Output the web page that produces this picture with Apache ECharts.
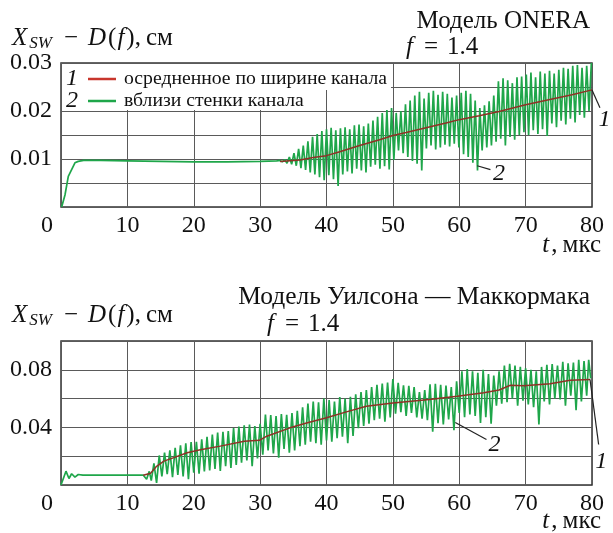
<!DOCTYPE html>
<html>
<head>
<meta charset="utf-8">
<script src="https://cdn.jsdelivr.net/npm/echarts@6/dist/echarts.min.js"></script>
<style>
  html, body { margin: 0; padding: 0; background: #fff; }
  #chart { width: 613px; height: 533px; }
</style>
</head>
<body>
<div id="chart"></div>
<script>
/* ось t, мкс */
var tTicks = [0, 10, 20, 30, 40, 50, 60, 70, 80];

/* верхний график: модель ONERA */
var topGreenStart = [[0.1, 0], [0.6, 0.0025], [1.1, 0.0064], [1.4, 0.0068], [2.1, 0.0092], [2.6, 0.0095],
    [3.4, 0.0097], [6, 0.0097], [10, 0.0096], [15, 0.0095], [20, 0.0094], [25, 0.0094], [30, 0.0095], [32.5, 0.0096]];
var topGreenOsc = [
    [33.0, 0.0097], [33.35, 0.0094], [33.7, 0.0099], [34.05, 0.0091], [34.4, 0.0104], [34.75, 0.0089],
    [35.1, 0.0112], [35.45, 0.0086], [35.8, 0.0121], [36.15, 0.0081], [36.5, 0.0128], [36.85, 0.0077],
    [37.2, 0.0137], [37.55, 0.0072], [37.9, 0.0146], [38.25, 0.0068], [38.6, 0.0152], [38.95, 0.0062],
    [39.3, 0.0158], [39.65, 0.0056], [40.0, 0.0162], [40.35, 0.0066], [40.7, 0.0165], [41.05, 0.0058],
    [41.4, 0.0160], [41.75, 0.0044], [42.1, 0.0164], [42.45, 0.0068], [42.8, 0.0166], [43.15, 0.0074],
    [43.5, 0.0162], [43.85, 0.0070], [44.2, 0.0170], [44.55, 0.0080], [44.9, 0.0172], [45.25, 0.0076],
    [45.6, 0.0168], [45.95, 0.0072], [46.3, 0.0174], [46.65, 0.0084], [47.0, 0.0180], [47.35, 0.0088],
    [47.7, 0.0188], [48.05, 0.0080], [48.4, 0.0196], [48.75, 0.0085], [49.1, 0.0202], [49.45, 0.0078],
    [49.8, 0.0206], [50.15, 0.0098], [50.5, 0.0196], [50.85, 0.0118], [51.2, 0.0200], [51.55, 0.0112],
    [51.9, 0.0214], [52.25, 0.0104], [52.6, 0.0222], [52.95, 0.0096], [53.3, 0.0232], [53.65, 0.0090],
    [54.0, 0.0240], [54.35, 0.0076], [54.7, 0.0226], [55.05, 0.0122], [55.4, 0.0238], [55.75, 0.0128],
    [56.1, 0.0242], [56.45, 0.0120], [56.8, 0.0234], [57.15, 0.0124], [57.5, 0.0240], [57.85, 0.0130],
    [58.2, 0.0236], [58.55, 0.0126], [58.9, 0.0228], [59.25, 0.0132], [59.6, 0.0232], [59.95, 0.0124],
    [60.3, 0.0238], [60.65, 0.0110], [61.0, 0.0242], [61.35, 0.0104], [61.7, 0.0236], [62.05, 0.0092],
    [62.4, 0.0222], [62.75, 0.0076], [63.1, 0.0206], [63.45, 0.0118], [63.8, 0.0212], [64.15, 0.0124],
    [64.5, 0.0220], [64.85, 0.0128], [65.2, 0.0232], [65.55, 0.0136], [65.9, 0.0262], [66.25, 0.0142],
    [66.6, 0.0268], [66.95, 0.0128], [67.3, 0.0264], [67.65, 0.0146], [68.0, 0.0258], [68.35, 0.0140],
    [68.7, 0.0270], [69.05, 0.0150], [69.4, 0.0272], [69.75, 0.0156], [70.1, 0.0276], [70.45, 0.0150],
    [70.8, 0.0280], [71.15, 0.0160], [71.5, 0.0270], [71.85, 0.0152], [72.2, 0.0282], [72.55, 0.0162],
    [72.9, 0.0278], [73.25, 0.0148], [73.6, 0.0284], [73.95, 0.0174], [74.3, 0.0278], [74.65, 0.0166],
    [75.0, 0.0286], [75.35, 0.0180], [75.7, 0.0290], [76.05, 0.0172], [76.4, 0.0288], [76.75, 0.0184],
    [77.1, 0.0294], [77.45, 0.0176], [77.8, 0.0296], [78.15, 0.0192], [78.5, 0.0290], [78.85, 0.0186],
    [79.2, 0.0294], [79.55, 0.0200], [79.9, 0.0300]
];
var topRed = [[33, 0.0095], [36, 0.0098], [38, 0.0103], [40, 0.0107], [42, 0.0115], [45, 0.0128], [48, 0.0140],
    [50, 0.0149], [52, 0.0155], [55, 0.0165], [58, 0.0175], [60, 0.0182], [63, 0.0190], [66, 0.0199],
    [70, 0.0213], [74, 0.0225], [77, 0.0234], [80, 0.0244]];

/* нижний график: модель Уилсона — Маккормака */
var botGreenStart = [[0, 0], [0.75, 0.0096], [1.2, 0.0045], [1.6, 0.0078], [2.1, 0.0055], [2.6, 0.0073],
    [2.9, 0.0062], [3.3, 0.0068], [8, 0.0068], [12.4, 0.0068], [12.7, 0.0072], [12.9, 0.0040],
    [13.3, 0.0095], [13.6, 0.0030]];
var botGreenOsc = [
    [14.0, 0.0150], [14.4, 0.0015], [14.8, 0.0205], [15.2, 0.0060], [15.6, 0.0225], [16.0, 0.0075],
    [16.4, 0.0240], [16.8, 0.0055], [17.2, 0.0258], [17.6, 0.0070], [18.0, 0.0275], [18.4, 0.0060],
    [18.8, 0.0290], [19.2, 0.0040], [19.6, 0.0298], [20.0, 0.0085], [20.4, 0.0300], [20.8, 0.0078],
    [21.2, 0.0318], [21.6, 0.0095], [22.0, 0.0335], [22.4, 0.0102], [22.8, 0.0350], [23.2, 0.0112],
    [23.6, 0.0365], [24.0, 0.0098], [24.4, 0.0370], [24.8, 0.0130], [25.2, 0.0375], [25.6, 0.0118],
    [26.0, 0.0395], [26.4, 0.0140], [26.8, 0.0405], [27.2, 0.0155], [27.6, 0.0415], [28.0, 0.0170],
    [28.4, 0.0420], [28.8, 0.0130], [29.2, 0.0410], [29.6, 0.0185], [30.0, 0.0425], [30.4, 0.0210],
    [30.8, 0.0490], [31.2, 0.0240], [31.6, 0.0485], [32.0, 0.0220], [32.4, 0.0478], [32.8, 0.0190],
    [33.2, 0.0492], [33.6, 0.0250], [34.0, 0.0488], [34.4, 0.0225], [34.8, 0.0500], [35.2, 0.0240],
    [35.6, 0.0515], [36.0, 0.0270], [36.4, 0.0540], [36.8, 0.0280], [37.2, 0.0565], [37.6, 0.0300],
    [38.0, 0.0580], [38.4, 0.0290], [38.8, 0.0575], [39.2, 0.0280], [39.6, 0.0600], [40.0, 0.0310],
    [40.4, 0.0590], [40.8, 0.0300], [41.2, 0.0580], [41.6, 0.0325], [42.0, 0.0610], [42.4, 0.0335],
    [42.8, 0.0600], [43.2, 0.0290], [43.6, 0.0612], [44.0, 0.0340], [44.4, 0.0630], [44.8, 0.0395],
    [45.2, 0.0645], [45.6, 0.0410], [46.0, 0.0660], [46.4, 0.0425], [46.8, 0.0680], [47.2, 0.0450],
    [47.6, 0.0695], [48.0, 0.0460], [48.4, 0.0705], [48.8, 0.0440], [49.2, 0.0712], [49.6, 0.0470],
    [50.0, 0.0735], [50.4, 0.0495], [50.8, 0.0710], [51.2, 0.0505], [51.6, 0.0692], [52.0, 0.0480],
    [52.4, 0.0688], [52.8, 0.0500], [53.2, 0.0680], [53.6, 0.0470], [54.0, 0.0645], [54.4, 0.0460],
    [54.8, 0.0660], [55.2, 0.0450], [55.6, 0.0700], [56.0, 0.0370], [56.4, 0.0702], [56.8, 0.0430],
    [57.2, 0.0695], [57.6, 0.0420], [58.0, 0.0690], [58.4, 0.0455], [58.8, 0.0680], [59.2, 0.0380],
    [59.6, 0.0720], [60.0, 0.0500], [60.4, 0.0790], [60.8, 0.0470], [61.2, 0.0805], [61.6, 0.0490],
    [62.0, 0.0790], [62.4, 0.0480], [62.8, 0.0780], [63.2, 0.0430], [63.6, 0.0800], [64.0, 0.0470],
    [64.4, 0.0770], [64.8, 0.0425], [65.2, 0.0760], [65.6, 0.0550], [66.0, 0.0790], [66.4, 0.0565],
    [66.8, 0.0830], [67.2, 0.0575], [67.6, 0.0842], [68.0, 0.0600], [68.4, 0.0830], [68.8, 0.0550],
    [69.2, 0.0820], [69.6, 0.0585], [70.0, 0.0810], [70.4, 0.0560], [70.8, 0.0800], [71.2, 0.0540],
    [71.6, 0.0790], [72.0, 0.0420], [72.4, 0.0820], [72.8, 0.0580], [73.2, 0.0835], [73.6, 0.0560],
    [74.0, 0.0840], [74.4, 0.0600], [74.8, 0.0830], [75.2, 0.0595], [75.6, 0.0855], [76.0, 0.0550],
    [76.4, 0.0845], [76.8, 0.0620], [77.2, 0.0850], [77.6, 0.0520], [78.0, 0.0870], [78.4, 0.0580],
    [78.8, 0.0860], [79.2, 0.0620], [79.5, 0.0870], [79.8, 0.0740]
];
var botRed = [[12.4, 0.0068], [13.5, 0.0082], [14.4, 0.0130], [15.5, 0.0166], [17, 0.0190], [19, 0.0224],
    [21, 0.0245], [24, 0.0270], [27.6, 0.0304], [29.9, 0.0310], [31, 0.0339], [34.5, 0.0397], [37, 0.0430],
    [40, 0.0467], [43, 0.0508], [46, 0.0547], [50, 0.0570], [55.5, 0.0594], [59.7, 0.0617], [63.7, 0.0640],
    [66, 0.0660], [67.7, 0.0693], [69.7, 0.0690], [73.7, 0.0703], [76.7, 0.0728], [79.7, 0.0733]];

/* подписи кривых: [номер, начало выноски, конец выноски, место цифры] */
var topNotes = [['1', [80, 0.0244], [81.2, 0.0207], [81.9, 0.0182]],
    ['2', [62.7, 0.0086], [64.7, 0.0078], [66.0, 0.0069]]];
var botNotes = [['2', [59.4, 0.0434], [64.1, 0.0316], [65.3, 0.0281]],
    ['1', [79.7, 0.0733], [81.0, 0.0281], [81.4, 0.0163]]];

var legendNames = ['осредненное по ширине канала', 'вблизи стенки канала'];

var FONT = 'Liberation Serif';
var GREEN = '#1fa64a';
var RED = '#8e3226';
var GRIDC = '#5a5a5a';

var chart = echarts.init(document.getElementById('chart'));

function xAxisOf(gi) {
    return {
        gridIndex: gi, type: 'value', min: 0, max: 80, interval: 10,
        axisLine: { show: false }, axisTick: { show: false },
        splitLine: { show: true, lineStyle: { color: GRIDC, width: 1 } },
        axisLabel: {
            fontFamily: FONT, fontSize: 24, color: '#111', margin: 7,
            formatter: function (v) { return v === 0 ? '{z|0}' : String(v); },
            rich: { z: { fontFamily: FONT, fontSize: 24, color: '#111', padding: [0, 28, 0, 0] } }
        }
    };
}
function yAxisOf(gi, max, step, labelStep) {
    return {
        gridIndex: gi, type: 'value', min: 0, max: max, interval: step,
        axisLine: { show: false }, axisTick: { show: false },
        splitLine: { show: true, lineStyle: { color: GRIDC, width: 1 } },
        axisLabel: {
            fontFamily: FONT, fontSize: 24, color: '#111', margin: 9,
            formatter: function (v) {
                var k = Math.round(v / labelStep * 1000) / 1000;
                if (v <= 0 || k !== Math.round(k)) return '';
                return v.toFixed(2);
            }
        }
    };
}

chart.setOption({
    animation: false,
    grid: [
        { left: 61, top: 63, width: 531, height: 144, show: true, borderColor: '#333', borderWidth: 1.5, backgroundColor: 'transparent' },
        { left: 61, top: 341, width: 531, height: 144, show: true, borderColor: '#333', borderWidth: 1.5, backgroundColor: 'transparent' }
    ],
    xAxis: [xAxisOf(0), xAxisOf(1)],
    yAxis: [yAxisOf(0, 0.03, 0.005, 0.01), yAxisOf(1, 0.1, 0.02, 0.04)],
    series: [
        { name: legendNames[1], type: 'line', xAxisIndex: 0, yAxisIndex: 0, data: topGreenStart.concat(topGreenOsc),
            showSymbol: false, lineStyle: { color: GREEN, width: 1.7 }, z: 2 },
        { name: legendNames[0], type: 'line', xAxisIndex: 0, yAxisIndex: 0, data: topRed,
            showSymbol: false, lineStyle: { color: RED, width: 1.5 }, z: 3 },
        { name: legendNames[1], type: 'line', xAxisIndex: 1, yAxisIndex: 1, data: botGreenStart.concat(botGreenOsc),
            showSymbol: false, lineStyle: { color: GREEN, width: 1.7 }, z: 2 },
        { name: legendNames[0], type: 'line', xAxisIndex: 1, yAxisIndex: 1, data: botRed,
            showSymbol: false, lineStyle: { color: RED, width: 1.5 }, z: 3 }
    ]
});

/* надписи, легенда, выноски */
var g = [];
function txt(x, y, text, size, align, rich) {
    g.push({ type: 'text', z: 100, x: x, y: y, style: {
        text: text, fontFamily: FONT, fontSize: size, fill: '#111', align: align || 'left', verticalAlign: 'middle', rich: rich || {}
    } });
}
var nameRich = {
    i: { fontFamily: FONT, fontSize: 25, fontStyle: 'italic', fill: '#111', padding: [0, 2, 0, 1] },
    s: { fontFamily: FONT, fontSize: 17, fontStyle: 'italic', fill: '#111', padding: [12, 3, 0, 0] },
    n: { fontFamily: FONT, fontSize: 25, fill: '#111' },
    c: { fontFamily: FONT, fontSize: 25, fill: '#111', padding: [0, 0, 0, 5] },
    m: { fontFamily: FONT, fontSize: 25, fill: '#111', padding: [0, 9, 0, 9] },
    d: { fontFamily: FONT, fontSize: 24, fontStyle: 'italic', fill: '#111' }
};
var yName = '{i|X}{s|SW}{m|−}{i|D}{n|(}{i|f}{n|),}{c|см}';
txt(11, 38, yName, 25, 'left', nameRich);
txt(11, 315, yName, 25, 'left', nameRich);
txt(590, 21, 'Модель ONERA', 25, 'right');
txt(405, 47, '{i|f}{m|=}{n|1.4}', 25, 'left', nameRich);
txt(590, 297, 'Модель Уилсона — Маккормака', 25.5, 'right');
txt(266, 324, '{i|f}{m|=}{n|1.4}', 25, 'left', nameRich);
txt(601, 245, '{i|t}{n|,}{c|мкс}', 25, 'right', nameRich);
txt(601, 521, '{i|t}{n|,}{c|мкс}', 25, 'right', nameRich);

// легенда на белой подложке
g.push({ type: 'rect', z: 99, shape: { x: 62, y: 64, width: 329, height: 26 }, style: { fill: '#fff' } });
g.push({ type: 'rect', z: 99, shape: { x: 62, y: 90, width: 253, height: 20 }, style: { fill: '#fff' } });
[[legendNames[0], '#c8362c', 79], [legendNames[1], GREEN, 101]].forEach(function (r, i) {
    txt(72, r[2], '{d|' + (i + 1) + '}', 24, 'center', nameRich);
    g.push({ type: 'line', z: 100, shape: { x1: 88, y1: r[2], x2: 116, y2: r[2] }, style: { stroke: r[1], lineWidth: 2.5 } });
    txt(124, r[2], r[0], 19.7, 'left');
});

function notes(list, gi) {
    list.forEach(function (n) {
        var a = chart.convertToPixel({ gridIndex: gi }, n[1]);
        var b = chart.convertToPixel({ gridIndex: gi }, n[2]);
        var c = chart.convertToPixel({ gridIndex: gi }, n[3]);
        g.push({ type: 'line', z: 100, shape: { x1: a[0], y1: a[1], x2: b[0], y2: b[1] }, style: { stroke: '#222', lineWidth: 1.2 } });
        txt(c[0], c[1], '{d|' + n[0] + '}', 24, 'center', nameRich);
    });
}
notes(topNotes, 0);
notes(botNotes, 1);

chart.setOption({ graphic: g });
</script>
</body>
</html>
